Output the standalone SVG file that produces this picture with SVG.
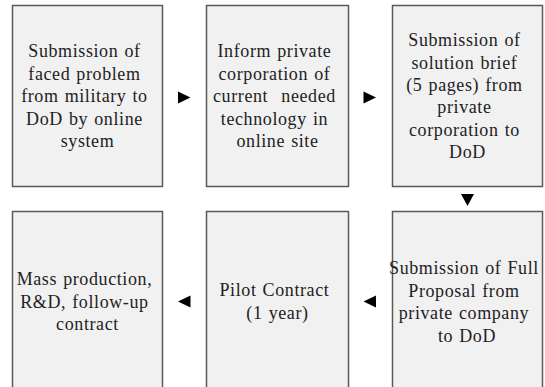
<svg xmlns="http://www.w3.org/2000/svg" width="545" height="387" viewBox="0 0 545 387">
  <style>
    .box { fill: #f1f1f1; stroke: #5a5a5a; stroke-width: 1.5; }
    .lbl { font-family: "Liberation Serif", "DejaVu Serif", serif; font-size: 18px; fill: #222; text-anchor: middle; letter-spacing: 0.6px; word-spacing: 1px; }
    .arr { fill: #000; }
  </style>
  <rect width="545" height="387" fill="#ffffff"/>

  <!-- top row -->
  <g id="step1">
    <rect class="box" x="12.5" y="5.5" width="150" height="181"/>
    <text class="lbl">
      <tspan x="87.5" y="57">Submission of</tspan>
      <tspan x="87.5" y="79.5">faced problem</tspan>
      <tspan x="87.5" y="102">from military to</tspan>
      <tspan x="87.5" y="124.5">DoD by online</tspan>
      <tspan x="87.5" y="147">system</tspan>
    </text>
  </g>
  <g id="step2">
    <rect class="box" x="206.5" y="5.5" width="142" height="181"/>
    <text class="lbl">
      <tspan x="277.5" y="57">Inform private</tspan>
      <tspan x="277.5" y="79.5">corporation of</tspan>
      <tspan x="277.5" y="102" word-spacing="8px">current needed</tspan>
      <tspan x="277.5" y="124.5">technology in</tspan>
      <tspan x="277.5" y="147">online site</tspan>
    </text>
  </g>
  <g id="step3">
    <rect class="box" x="392.5" y="5.5" width="150" height="181"/>
    <text class="lbl">
      <tspan x="467.5" y="46">Submission of</tspan>
      <tspan x="467.5" y="68.5">solution brief</tspan>
      <tspan x="467.5" y="91">(5 pages) from</tspan>
      <tspan x="467.5" y="113">private</tspan>
      <tspan x="467.5" y="135.5">corporation to</tspan>
      <tspan x="467.5" y="158">DoD</tspan>
    </text>
  </g>

  <!-- bottom row -->
  <g id="step4">
    <rect class="box" x="392.5" y="211.5" width="150" height="181"/>
    <text class="lbl">
      <tspan x="467" y="274">Submission of Full</tspan>
      <tspan x="467" y="296.5">Proposal from</tspan>
      <tspan x="467" y="319">private company</tspan>
      <tspan x="467" y="341.5">to DoD</tspan>
    </text>
  </g>
  <g id="step5">
    <rect class="box" x="206.5" y="211.5" width="142" height="181"/>
    <text class="lbl">
      <tspan x="277.5" y="296">Pilot Contract</tspan>
      <tspan x="277.5" y="318.5">(1 year)</tspan>
    </text>
  </g>
  <g id="step6">
    <rect class="box" x="12.5" y="211.5" width="150" height="181"/>
    <text class="lbl">
      <tspan x="87.5" y="285">Mass production,</tspan>
      <tspan x="87.5" y="307.5">R&amp;D, follow-up</tspan>
      <tspan x="87.5" y="330">contract</tspan>
    </text>
  </g>

  <!-- flow arrows -->
  <g id="connectors">
    <polygon class="arr" points="178,91.5 178,103.5 190.5,97.5"/>
    <polygon class="arr" points="363.5,91.5 363.5,103.5 376,97.5"/>
    <polygon class="arr" points="461,194 474,194 467.5,206"/>
    <polygon class="arr" points="376,295.5 376,307.5 363.5,301.5"/>
    <polygon class="arr" points="190.5,295.5 190.5,307.5 178,301.5"/>
  </g>
</svg>
